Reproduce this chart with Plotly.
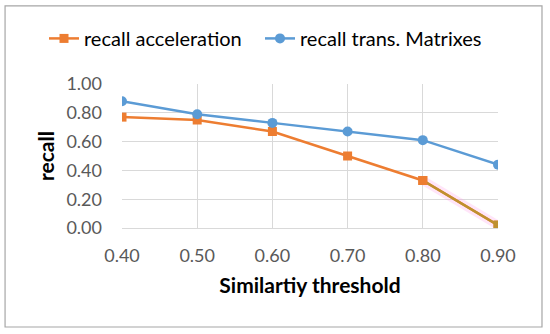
import plotly.graph_objects as go

thresholds = [0.40, 0.50, 0.60, 0.70, 0.80, 0.90]
recall_acceleration = [0.77, 0.75, 0.67, 0.50, 0.33, 0.02]
recall_trans_matrixes = [0.88, 0.79, 0.73, 0.67, 0.61, 0.44]
y_ticks = [0.0, 0.2, 0.4, 0.6, 0.8, 1.0]
x_ticks = thresholds

ORANGE = "#ED7D31"
BLUE = "#5B9BD5"
OLIVE = "#BE9130"
FONT = "Lato, Carlito, Calibri, sans-serif"

fig = go.Figure()

# faint pink halo under last orange segment
fig.add_trace(go.Scatter(
    x=thresholds[-2:], y=recall_acceleration[-2:], mode="lines",
    line=dict(color="rgba(255,150,230,0.25)", width=9),
    showlegend=False, hoverinfo="skip"))

fig.add_trace(go.Scatter(
    x=thresholds, y=recall_acceleration, mode="lines+markers",
    name="recall acceleration", legend="legend",
    line=dict(color=ORANGE, width=2.5),
    marker=dict(symbol="square", size=9, color=ORANGE)))

# last segment drawn in olive tone as in reference
fig.add_trace(go.Scatter(
    x=thresholds[-2:], y=recall_acceleration[-2:], mode="lines",
    line=dict(color=OLIVE, width=2.5),
    showlegend=False, hoverinfo="skip"))
fig.add_trace(go.Scatter(
    x=thresholds[-1:], y=recall_acceleration[-1:], mode="markers",
    marker=dict(symbol="square", size=9, color=OLIVE),
    showlegend=False, hoverinfo="skip"))
fig.add_trace(go.Scatter(
    x=thresholds[-2:-1], y=recall_acceleration[-2:-1], mode="markers",
    marker=dict(symbol="square", size=9, color=ORANGE),
    showlegend=False, hoverinfo="skip"))

fig.add_trace(go.Scatter(
    x=thresholds, y=recall_trans_matrixes, mode="lines+markers",
    name="recall trans. Matrixes", legend="legend2",
    line=dict(color=BLUE, width=2.5),
    marker=dict(symbol="circle", size=10, color=BLUE)))

legend_common = dict(orientation="h", xref="container", yref="container",
                     xanchor="left", y=0.885, yanchor="middle",
                     bgcolor="rgba(0,0,0,0)",
                     font=dict(size=20, color="#000000", family=FONT))

fig.update_layout(
    width=550, height=334,
    margin=dict(l=122, r=52, t=84, b=106, autoexpand=False),
    paper_bgcolor="white", plot_bgcolor="white",
    font=dict(family=FONT, color="#595959", size=18),
    legend=dict(x=44 / 550, **legend_common),
    legend2=dict(x=260 / 550, **legend_common),
    showlegend=True,
    shapes=[dict(type="rect", xref="paper", yref="paper",
                 x0=-0.311, x1=1.117, y0=-0.6875, y1=1.542,
                 line=dict(color="#A6A6A6", width=1.2), fillcolor="rgba(0,0,0,0)",
                 layer="below")],
)

fig.update_xaxes(
    range=[0.40, 0.90], tickvals=x_ticks, tickformat=".2f",
    showgrid=True, gridcolor="#D9D9D9", gridwidth=1,
    showline=True, linecolor="#D9D9D9", linewidth=1,
    zeroline=False, ticks="", ticklabelstandoff=11, automargin=False,
    title=dict(text="<b>Similartiy threshold</b>", font=dict(size=21, color="#000000"), standoff=13),
    tickfont=dict(size=18, color="#595959"),
)
fig.update_yaxes(
    range=[0.0, 1.0], tickvals=y_ticks, tickformat=".2f",
    showgrid=True, gridcolor="#D9D9D9", gridwidth=1,
    showline=False, zeroline=False, ticks="", ticklabelstandoff=19, automargin=False,
    title=dict(text="<b>recall</b>", font=dict(size=21, color="#000000"), standoff=6),
    tickfont=dict(size=18, color="#595959"),
)

fig.write_html("out.html", config={"displayModeBar": False},
               post_script="document.body.style.margin='0';")
